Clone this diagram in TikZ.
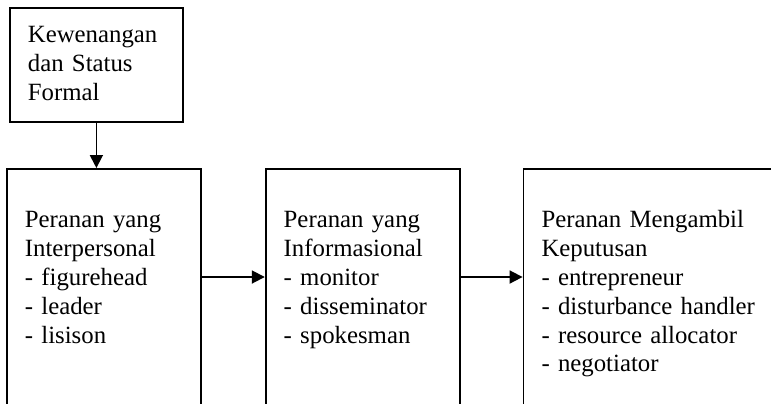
\documentclass[tikz,border=0pt]{standalone}
\usepackage{fontspec}
\setmainfont{Liberation Serif}
\usetikzlibrary{arrows.meta, positioning}
\tikzstyle{box} = [rectangle, draw=black, line width=0.9pt, anchor=north west, align=left,
    inner xsep=9pt, text width=79pt, text height=8.5pt, text depth=200pt, inner ysep=21pt,
    font=\fontsize{12.4}{14.4}\selectfont]
\tikzstyle{arrow} = [line width=0.9pt,-{Triangle[length=6.5pt,width=6.5pt]}]

\begin{document}
\begin{tikzpicture}[x=0.5pt, y=-0.5pt]
  \path[use as bounding box] (0,0) rectangle (771,403);
  \clip (0,0) rectangle (771,403);

  \node (status) [box, text width=68.5pt, inner ysep=9pt, text depth=30.5pt] at (9,7)
        {Kewenangan\\dan Status\\Formal};
  \node (inter)  [box] at (6,168)
        {Peranan yang\\Interpersonal\\- figurehead\\- leader\\- lisison};
  \node (info)   [box, right=31.5pt of inter]
        {Peranan yang\\Informasional\\- monitor\\- disseminator\\- spokesman};
  \node (decide) [box, right=31pt of info, text width=160pt]
        {Peranan Mengambil\\Keputusan\\- entrepreneur\\- disturbance handler\\- resource allocator\\- negotiator};

  \draw[arrow] (status.south) -- (status.south |- inter.north);
  \draw[arrow] ([yshift=-54.5pt]inter.north east) -- ([yshift=-54.5pt]info.north west);
  \draw[arrow] ([yshift=-54.5pt]info.north east) -- ([yshift=-54.5pt]decide.north west);
\end{tikzpicture}
\end{document}
